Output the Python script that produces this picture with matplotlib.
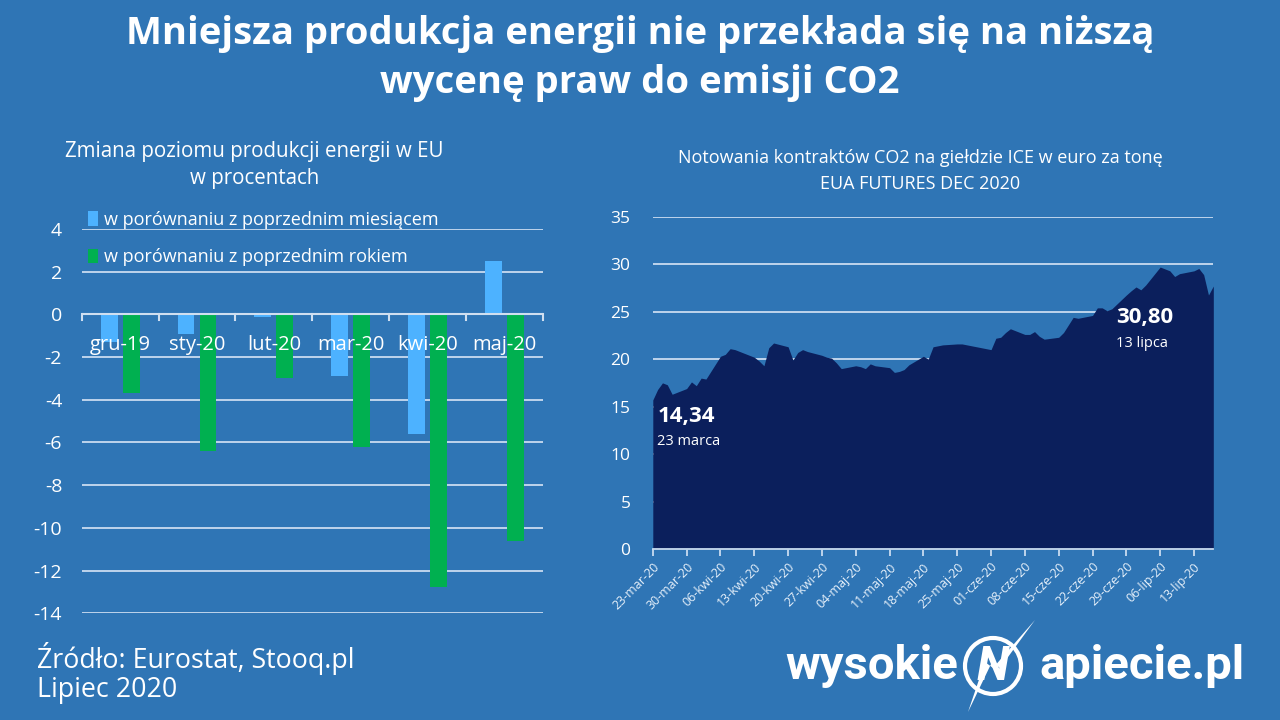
import numpy as np
import pandas as pd
import matplotlib
matplotlib.use("Agg")
import matplotlib.pyplot as plt
from matplotlib.patches import Circle, Polygon

# ---------------- data ----------------
categories = ["gru-19", "sty-20", "lut-20", "mar-20", "kwi-20", "maj-20"]
mom_change = [-1.3, -0.9, -0.1, -2.9, -5.6, 2.5]      # vs previous month
yoy_change = [-3.7, -6.4, -3.0, -6.2, -12.75, -10.6]  # vs previous year
legend_labels = ["w porównaniu z poprzednim miesiącem",
                 "w porównaniu z poprzednim rokiem"]

co2_dates = pd.bdate_range("2020-03-23", "2020-07-17")
co2_price = [
    15.7, 16.8, 17.5, 17.3, 16.3,
    16.9, 17.6, 17.2, 18.0, 17.9,
    20.3, 20.5, 21.1, 21.0, 20.8,
    20.2, 19.8, 19.3, 21.2, 21.7,
    21.3, 19.9, 20.7, 21.0, 20.8,
    20.4, 20.2, 20.1, 19.6, 19.0,
    19.3, 19.2, 19.0, 19.5, 19.3,
    19.1, 18.6, 18.7, 18.9, 19.4,
    20.3, 20.0, 21.3, 21.4, 21.5,
    21.6, 21.6, 21.5, 21.4, 21.3,
    21.0, 22.2, 22.3, 22.8, 23.2,
    22.6, 22.6, 22.9, 22.4, 22.1,
    22.3, 22.8, 23.6, 24.4, 24.3,
    24.6, 25.4, 25.4, 25.1, 25.3,
    26.75, 27.2, 27.6, 27.3, 27.8,
    29.7, 29.5, 29.3, 28.7, 29.0,
    29.3, 29.55, 28.9, 26.75, 27.7,
]
co2_tick_dates = pd.date_range("2020-03-23", "2020-07-13", freq="7D")
co2_tick_labels = ["23-mar-20", "30-mar-20", "06-kwi-20", "13-kwi-20", "20-kwi-20",
                   "27-kwi-20", "04-maj-20", "11-maj-20", "18-maj-20", "25-maj-20",
                   "01-cze-20", "08-cze-20", "15-cze-20", "22-cze-20", "29-cze-20",
                   "06-lip-20", "13-lip-20"]

# ---------------- style ----------------
BG = "#2f75b5"
GRID = "#c9dcf0"
BLUE_BAR = "#4db2ff"
GREEN_BAR = "#00b050"
NAVY = "#0b1f5c"
FONT = ["Open Sans", "DejaVu Sans"]
plt.rcParams["font.family"] = FONT

fig = plt.figure(figsize=(12.8, 7.2), dpi=100, facecolor=BG)

# ---------------- titles ----------------
fig.text(0.5, 0.953, "Mniejsza produkcja energii nie przekłada się na niższą",
         ha="center", va="center", color="white", fontsize=27.5, fontweight="bold")
fig.text(0.5, 0.885, "wycenę praw do emisji CO2",
         ha="center", va="center", color="white", fontsize=27.5, fontweight="bold")

# ---------------- left chart ----------------
axL = fig.add_axes([0.0638, 0.1482, 0.3604, 0.5338])
axL.set_facecolor(BG)
x = np.arange(len(categories))
w = 0.22
axL.bar(x - 0.143, mom_change, width=w, color=BLUE_BAR, zorder=3, label=legend_labels[0])
axL.bar(x + 0.143, yoy_change, width=w, color=GREEN_BAR, zorder=3, label=legend_labels[1])
axL.set_xlim(-0.5, len(categories) - 0.5)
axL.set_ylim(-14, 4)
axL.set_yticks(np.arange(-14, 5, 2))
axL.set_yticklabels([str(v) for v in range(-14, 5, 2)])
axL.yaxis.grid(True, color=GRID, linewidth=1.3, zorder=0)
axL.set_axisbelow(True)
for s in ["left", "right", "top", "bottom"]:
    axL.spines[s].set_visible(False)
axL.tick_params(axis="y", length=0, colors="white", labelsize=14, pad=14)
axL.set_xticks([])
axL.axhline(0, color="#d0dff0", linewidth=1.5, zorder=4)
for b in np.arange(-0.5, len(categories), 1.0):
    axL.plot([b, b], [0, -0.25], color="#d0dff0", linewidth=1.5, zorder=4, clip_on=False)
for xi, c in zip(x, categories):
    axL.text(xi, -1.45, c, ha="center", va="center", color="white", fontsize=14.5, zorder=5)
axL.legend(loc="upper left", bbox_to_anchor=(-0.022, 1.09), frameon=False,
           fontsize=13, labelcolor="white", handlelength=0.55, handleheight=0.85,
           handletextpad=0.35, labelspacing=1.1)
fig.text(0.199, 0.790, "Zmiana poziomu produkcji energii w EU", ha="center", va="center",
         color="white", fontsize=14.8)
fig.text(0.199, 0.752, "w procentach", ha="center", va="center", color="white", fontsize=14.8)

# ---------------- right chart ----------------
axR = fig.add_axes([0.510, 0.2375, 0.4379, 0.4615])
axR.set_facecolor(BG)
axR.fill_between(co2_dates, co2_price, 0, color=NAVY, linewidth=0, zorder=3)
axR.set_xlim(co2_dates[0], co2_dates[-1])
axR.set_ylim(0, 35)
axR.set_yticks(np.arange(0, 36, 5))
axR.yaxis.grid(True, color=GRID, linewidth=1.3, zorder=0)
axR.set_axisbelow(True)
for s in ["left", "right", "top"]:
    axR.spines[s].set_visible(False)
axR.spines["bottom"].set_color("#c9dcf0")
axR.spines["bottom"].set_linewidth(1.3)
axR.spines["bottom"].set_zorder(4)
axR.tick_params(axis="y", length=0, colors="white", labelsize=12.5, pad=16)
axR.set_xticks(co2_tick_dates)
axR.set_xticklabels(co2_tick_labels, rotation=45, ha="right", rotation_mode="anchor",
                    fontsize=9)
axR.tick_params(axis="x", length=5, width=1.3, colors="#c9dcf0", labelcolor="#e6f0fa",
                pad=3)
axR.text(0.008, 0.398, "14,34", transform=axR.transAxes, color="white", fontsize=16,
         fontweight="bold", ha="left", va="center", zorder=6)
axR.text(0.008, 0.325, "23 marca", transform=axR.transAxes, color="white", fontsize=10.5,
         ha="left", va="center", zorder=6)
axR.text(0.826, 0.698, "30,80", transform=axR.transAxes, color="white", fontsize=16,
         fontweight="bold", ha="left", va="center", zorder=6)
axR.text(0.826, 0.618, "13 lipca", transform=axR.transAxes, color="white", fontsize=10.5,
         ha="left", va="center", zorder=6)
fig.text(0.719, 0.781, "Notowania kontraktów CO2 na giełdzie ICE w euro za tonę",
         ha="center", va="center", color="white", fontsize=13)
fig.text(0.719, 0.745, "EUA FUTURES DEC 2020", ha="center", va="center",
         color="white", fontsize=13)

# ---------------- footer ----------------
fig.text(0.029, 0.085, "Źródło: Eurostat, Stooq.pl", ha="left", va="center",
         color="white", fontsize=19.3)
fig.text(0.029, 0.041, "Lipiec 2020", ha="left", va="center", color="white", fontsize=19.3)

# logo
fig.text(0.749, 0.075, "wysokie", ha="right", va="center", color="white",
         fontsize=34, fontweight="bold", family=["Roboto", "DejaVu Sans"])
fig.text(0.812, 0.075, "apiecie.pl", ha="left", va="center", color="white",
         fontsize=34, fontweight="bold", family=["Roboto", "DejaVu Sans"])
axLogo = fig.add_axes([0.0, 0.0, 1.0, 1.0], facecolor="none")
axLogo.set_xlim(0, 1280)
axLogo.set_ylim(720, 0)
axLogo.axis("off")
axLogo.add_patch(Circle((993, 666), 28, fill=False, edgecolor="white", linewidth=3))
axLogo.text(993, 667, "N", ha="center", va="center", color="white", fontsize=34,
            fontweight="bold", fontstyle="italic", family=["Roboto", "DejaVu Sans"])
axLogo.add_patch(Polygon([(1035, 620), (1000, 668), (992, 662), (968, 712), (985, 662),
                          (993, 668)], closed=True, facecolor="white", edgecolor="none"))

fig.savefig("out.png", dpi=100, facecolor=BG)
